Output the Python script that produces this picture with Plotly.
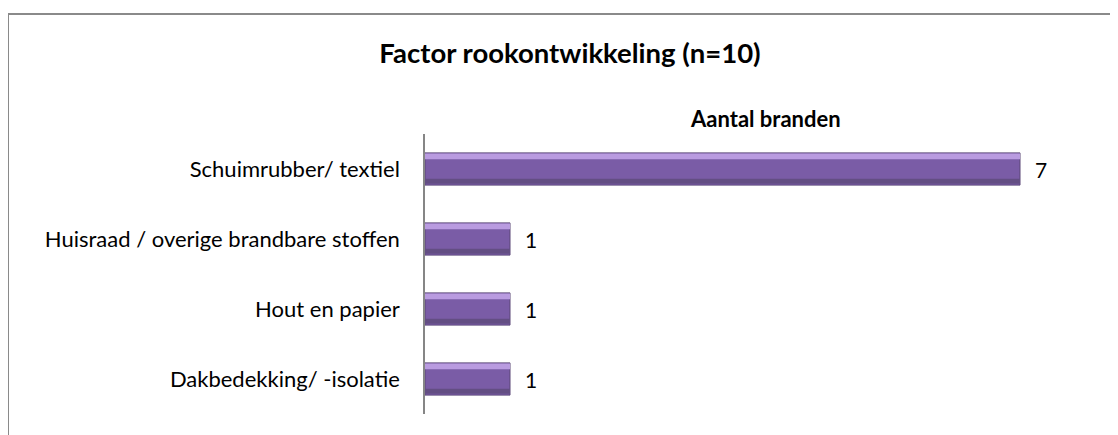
import plotly.graph_objects as go

categories = ["Schuimrubber/ textiel", "Huisraad / overige brandbare stoffen", "Hout en papier", "Dakbedekking/ -isolatie"]
values = [7, 1, 1, 1]
title_text = "Factor rookontwikkeling (n=10)"
series_name = "Aantal branden"

OFF = 8  # page body margin
W, H = 1118 - OFF, 435 - OFF
L, R, T, B = 425 - OFF, 13, 134 - OFF, 21
pw, ph = W - L - R, H - T - B

def px_x(p):
    return (p - OFF - L) / pw

def px_y(p):
    return (H - B - (p - OFF)) / ph

FONT = "Lato, Carlito, Calibri, sans-serif"

fig = go.Figure()
fig.add_trace(go.Bar(
    y=categories, x=values, orientation="h", width=0.46,
    marker=dict(color="#7a5ca6", line=dict(color="#5a4677", width=1)),
    hoverinfo="skip", showlegend=False,
))
# top highlight strip
fig.add_trace(go.Bar(
    y=categories, x=values, orientation="h", width=0.08, offset=-0.22,
    marker=dict(color="#b99be0", line=dict(width=0)),
    hoverinfo="skip", showlegend=False,
))
# bottom shade strip
fig.add_trace(go.Bar(
    y=categories, x=values, orientation="h", width=0.07, offset=0.14,
    marker=dict(color="#634e83", line=dict(width=0)),
    hoverinfo="skip", showlegend=False,
))

for c, v in zip(categories, values):
    fig.add_annotation(x=v, y=c, text=str(v), showarrow=False, xanchor="left",
                       xshift=13, font=dict(family=FONT, size=21, color="#000"))

fig.add_annotation(xref="paper", yref="paper", x=0.5, y=px_y(119), text="<b>" + series_name + "</b>",
                   showarrow=False, xanchor="center", yanchor="middle",
                   font=dict(family=FONT, size=22, color="#000"))

fig.add_shape(type="rect", xref="paper", yref="paper",
              x0=px_x(8), x1=px_x(1135), y0=px_y(450), y1=px_y(14),
              line=dict(color="#8a8a8a", width=2), fillcolor="rgba(0,0,0,0)", layer="above")

fig.update_layout(
    width=W, height=H, barmode="overlay",
    margin=dict(l=L, r=R, t=T, b=B),
    paper_bgcolor="white", plot_bgcolor="white",
    title=dict(text="<b>" + title_text + "</b>", x=(570 - OFF) / W, xanchor="center",
               y=1 - (53 - OFF) / H, yanchor="middle", yref="container",
               font=dict(family=FONT, size=27.5, color="#000")),
    xaxis=dict(range=[0, 8], visible=False, fixedrange=True),
    yaxis=dict(autorange="reversed", showline=True, linecolor="#868686", linewidth=1.5,
               ticks="", showgrid=False, ticklabelstandoff=19,
               tickfont=dict(family=FONT, size=22, color="#000")),
)

fig.write_html("out.html")
